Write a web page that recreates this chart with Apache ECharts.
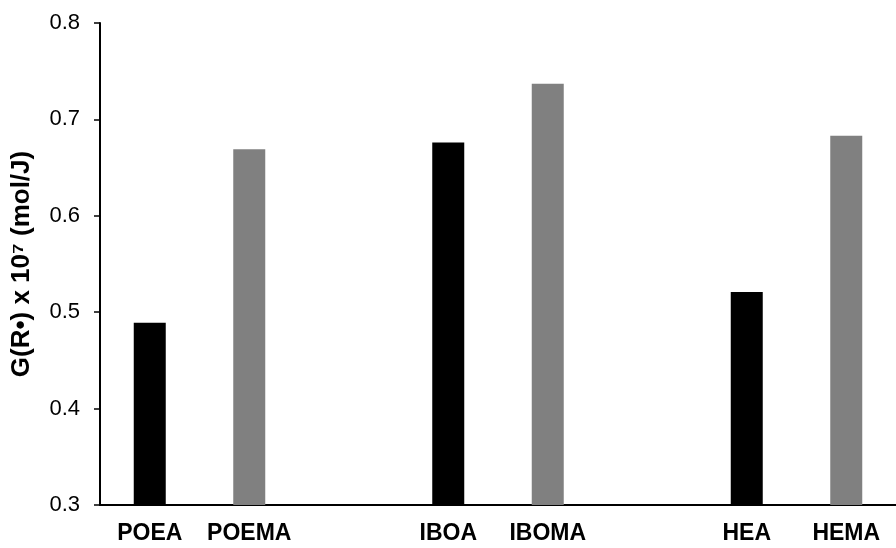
<!DOCTYPE html>
<html>
<head>
<meta charset="utf-8">
<script src="https://cdn.jsdelivr.net/npm/echarts@6/dist/echarts.min.js"></script>
<style>
  html, body { margin: 0; padding: 0; background: #fff; }
  #main { width: 896px; height: 548px; }
</style>
</head>
<body>
<div id="main"></div>
<script>
// categories with blank slots between monomer pairs
var monomers = ['POEA', 'POEMA', '', 'IBOA', 'IBOMA', '', 'HEA', 'HEMA'];
var gValues = [0.489, 0.669, null, 0.676, 0.737, null, 0.521, 0.683];
var barColors = ['#000000', '#808080', '#000000', '#000000', '#808080', '#000000', '#000000', '#808080'];

var chart = echarts.init(document.getElementById('main'));

var barData = [];
for (var i = 0; i < gValues.length; i++) {
  barData.push({ value: gValues[i], itemStyle: { color: barColors[i] } });
}

var option = {
  animation: false,
  grid: {
    left: 100,
    top: 23,
    bottom: 43,
    width: 805
  },
  xAxis: {
    type: 'category',
    data: monomers,
    axisLine: { lineStyle: { color: '#000', width: 2 } },
    axisTick: { show: false },
    axisLabel: {
      interval: 0,
      margin: 17,
      color: '#000',
      fontFamily: 'Liberation Sans, Arial',
      fontWeight: 'bold',
      fontSize: 23
    }
  },
  yAxis: {
    type: 'value',
    min: 0.3,
    max: 0.8,
    interval: 0.1,
    name: 'G(R•) x 10⁷ (mol/J)',
    nameLocation: 'middle',
    nameGap: 65,
    nameTextStyle: {
      color: '#000',
      fontFamily: 'Liberation Sans, Arial',
      fontWeight: 'bold',
      fontSize: 26
    },
    axisLine: { show: true, lineStyle: { color: '#000', width: 2 } },
    axisTick: { show: true, length: 6, lineStyle: { color: '#000', width: 1.5 } },
    splitLine: { show: false },
    axisLabel: {
      margin: 20,
      color: '#000',
      fontFamily: 'Liberation Sans, Arial',
      fontSize: 22,
      formatter: function (v) { return v.toFixed(1); }
    }
  },
  series: [
    {
      type: 'bar',
      barWidth: 32,
      data: barData
    }
  ]
};

chart.setOption(option);
</script>
</body>
</html>
